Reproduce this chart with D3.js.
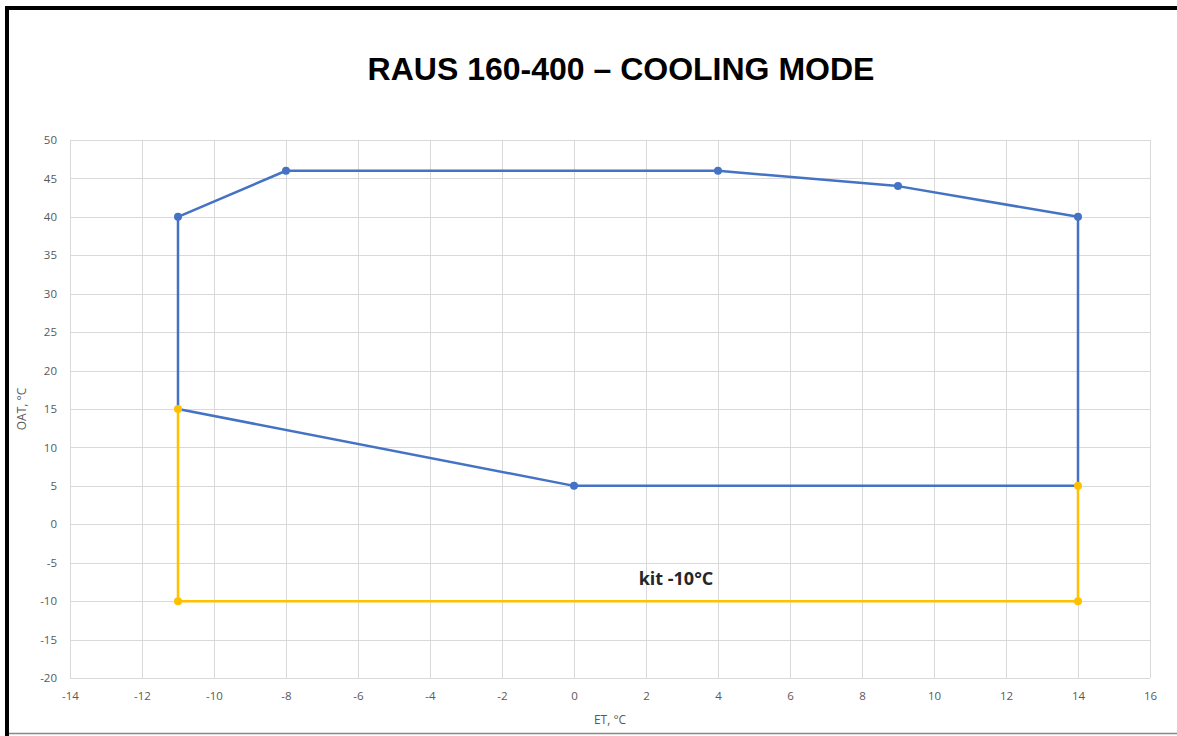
<!DOCTYPE html>
<html>
<head>
<meta charset="utf-8">
<script src="https://cdn.jsdelivr.net/npm/d3@7"></script>
<style>
  body { margin: 0; background: #fff; }
  svg { display: block; }
</style>
</head>
<body>
<svg id="chart" width="1177" height="736"></svg>
<script>
// data
const xTicks = [-14, -12, -10, -8, -6, -4, -2, 0, 2, 4, 6, 8, 10, 12, 14, 16];
const yTicks = [-20, -15, -10, -5, 0, 5, 10, 15, 20, 25, 30, 35, 40, 45, 50];

// standard envelope (blue)
const baseET  = [-11, -11, -8, 4, 9, 14, 14, 0, -11];
const baseOAT = [15, 40, 46, 46, 44, 40, 5, 5, 15];
const baseMarkers = [1, 2, 3, 4, 5, 7];   // indexes that carry a dot

// low ambient kit (yellow)
const kitET  = [-11, -11, 14, 14];
const kitOAT = [15, -10, -10, 5];

const titleText = "RAUS 160-400 – COOLING MODE";
const kitLabel = "kit -10°C";

const W = 1177, H = 736;
const svg = d3.select("#chart");

// frame
svg.append("rect").attr("x", 0).attr("y", 0).attr("width", W).attr("height", H).attr("fill", "#fff");
svg.append("line").attr("x1", 7).attr("x2", 7).attr("y1", 6).attr("y2", 736)
  .attr("stroke", "#000").attr("stroke-width", 4);
svg.append("line").attr("x1", 5).attr("x2", W).attr("y1", 8).attr("y2", 8)
  .attr("stroke", "#000").attr("stroke-width", 4);
svg.append("line").attr("x1", 9).attr("x2", W).attr("y1", 733.5).attr("y2", 733.5)
  .attr("stroke", "#888").attr("stroke-width", 1.5);

const x = d3.scaleLinear().domain([-14, 16]).range([70, 1150]);
const y = d3.scaleLinear().domain([-20, 50]).range([678, 140]);

// grid
const grid = svg.append("g").attr("stroke", "#d9d9d9").attr("stroke-width", 1);
grid.selectAll(".vx").data(xTicks).join("line")
  .attr("x1", d => Math.round(x(d)) + 0.5).attr("x2", d => Math.round(x(d)) + 0.5)
  .attr("y1", y(50)).attr("y2", y(-20));
grid.selectAll(".hy").data(yTicks).join("line")
  .attr("y1", d => Math.round(y(d)) + 0.5).attr("y2", d => Math.round(y(d)) + 0.5)
  .attr("x1", x(-14)).attr("x2", x(16));

// axes (labels only, Excel style) - plain hyphen for negatives
const xAxis = svg.append("g").attr("transform", `translate(0,${y(-20)})`)
  .call(d3.axisBottom(x).tickValues(xTicks).tickFormat(d => String(d)).tickSize(0).tickPadding(14));
const yAxis = svg.append("g").attr("transform", `translate(${x(-14)},0)`)
  .call(d3.axisLeft(y).tickValues(yTicks).tickFormat(d => String(d)).tickSize(0).tickPadding(13));
[xAxis, yAxis].forEach(a => {
  a.select(".domain").remove();
  a.selectAll("text").attr("fill", "#595959")
    .style("font-family", "'Open Sans', 'Liberation Sans', sans-serif").style("font-size", "11.5px");
});

// axis titles
svg.append("text").attr("x", 610).attr("y", 724).attr("text-anchor", "middle")
  .attr("fill", "#595959").style("font-family", "'Open Sans', sans-serif").style("font-size", "12px")
  .text("ET, °C");
svg.append("text").attr("transform", "translate(26,409) rotate(-90)").attr("text-anchor", "middle")
  .attr("fill", "#595959").style("font-family", "'Open Sans', sans-serif").style("font-size", "12px")
  .text("OAT, °C");

// title
svg.append("text").attr("x", 621).attr("y", 80).attr("text-anchor", "middle")
  .attr("fill", "#000").style("font-family", "'Liberation Sans', Arial, sans-serif")
  .style("font-weight", "bold").style("font-size", "32px")
  .text(titleText);

const line = d3.line().x(d => x(d[0])).y(d => y(d[1]));

const base = baseET.map((v, i) => [v, baseOAT[i]]);
const kit = kitET.map((v, i) => [v, kitOAT[i]]);

svg.append("path").attr("d", line(base)).attr("fill", "none")
  .attr("stroke", "#4472c4").attr("stroke-width", 2.5).attr("stroke-linejoin", "round");
svg.selectAll(".bdot").data(baseMarkers.map(i => base[i])).join("circle")
  .attr("cx", d => x(d[0])).attr("cy", d => y(d[1])).attr("r", 4).attr("fill", "#4472c4");

svg.append("path").attr("d", line(kit)).attr("fill", "none")
  .attr("stroke", "#ffc000").attr("stroke-width", 2.5).attr("stroke-linejoin", "round");
svg.selectAll(".kdot").data(kit).join("circle")
  .attr("cx", d => x(d[0])).attr("cy", d => y(d[1])).attr("r", 4).attr("fill", "#ffc000");

svg.append("text").attr("x", 676).attr("y", 585).attr("text-anchor", "middle")
  .attr("fill", "#262626").style("font-family", "'Open Sans', sans-serif")
  .style("font-weight", "bold").style("font-size", "18px")
  .text(kitLabel);
</script>
</body>
</html>
